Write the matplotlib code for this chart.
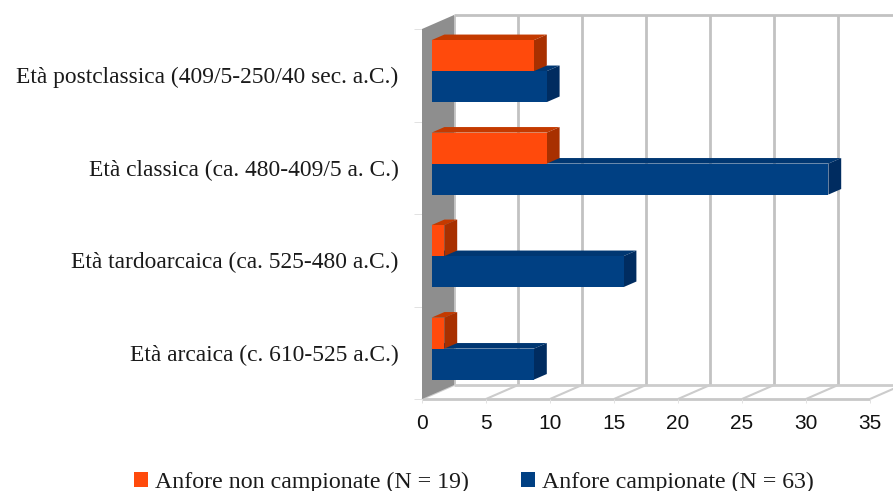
import matplotlib
matplotlib.use("Agg")
import matplotlib.pyplot as plt
from matplotlib.patches import Polygon

categories = ["Età arcaica (c. 610-525 a.C.)",
              "Età tardoarcaica (ca. 525-480 a.C.)",
              "Età classica (ca. 480-409/5 a. C.)",
              "Età postclassica (409/5-250/40 sec. a.C.)"]
sampled = [8, 15, 31, 9]
unsampled = [1, 1, 9, 8]
xticks = [0, 5, 10, 15, 20, 25, 30, 35]
label_unsampled = "Anfore non campionate (N = 19)"
label_sampled = "Anfore campionate (N = 63)"

W, H = 893, 491
fig = plt.figure(figsize=(W / 100, H / 100), dpi=100, facecolor="white")
ax = fig.add_axes([422 / W, 1 - 399 / H, 448 / W, 370 / H])
ax.set_xlim(0, 35)
ax.set_ylim(0, 4)
ax.patch.set_visible(False)
for s in ax.spines.values():
    s.set_visible(False)

# 3D depth, in data units
WALL_DX, WALL_DY = 2.5, 0.151
BAR_DX, BAR_DY = 1.0, 0.06
BAR_X0 = 0.75
BAR_H = 0.335
GRID = "#c2c2c2"
GRID_LW = 2.0

def line(xs, ys, z=1, lw=GRID_LW, c=GRID):
    ax.plot(xs, ys, color=c, lw=lw, zorder=z, clip_on=False, solid_capstyle="butt")

# back wall grid, floor, top
for v in xticks:
    line([v + WALL_DX] * 2, [WALL_DY, 4 + WALL_DY], z=1)
    line([v, v + WALL_DX], [0, WALL_DY], z=1, lw=1.5, c="#cccccc")
line([WALL_DX, 37.5], [WALL_DY, WALL_DY], z=1, c="#cccccc")
line([WALL_DX, 37.5], [4 + WALL_DY, 4 + WALL_DY], z=1)
line([0, 35], [0, 0], z=1, c="#c8c8c8")

# left wall
ax.add_patch(Polygon([(0, 0), (WALL_DX, WALL_DY), (WALL_DX, 4 + WALL_DY), (0, 4)],
                     closed=True, fc="#8e8e8e", ec="none", zorder=2, clip_on=False))

def bar3d(y, value, front, side, top, z, label=None):
    left = BAR_X0
    right = BAR_X0 + value
    b = ax.barh(y, value, height=BAR_H, left=left, align="edge", color=front,
                zorder=z + 0.2, clip_on=False, label=label, linewidth=0)
    ax.add_patch(Polygon([(left, y + BAR_H), (right, y + BAR_H),
                          (right + BAR_DX, y + BAR_H + BAR_DY),
                          (left + BAR_DX, y + BAR_H + BAR_DY)],
                         closed=True, fc=top, ec="none", zorder=z, clip_on=False))
    ax.add_patch(Polygon([(right, y), (right + BAR_DX, y + BAR_DY),
                          (right + BAR_DX, y + BAR_H + BAR_DY), (right, y + BAR_H)],
                         closed=True, fc=side, ec="none", zorder=z + 0.1, clip_on=False))
    return b

h_s = h_u = None
for i in range(len(categories)):
    h_s = bar3d(i + 0.21, sampled[i], "#004083", "#002c60", "#003772", 3)
    h_u = bar3d(i + 0.545, unsampled[i], "#ff4a0c", "#a83000", "#c43a00", 4)

# ticks
ax.set_xticks(xticks)
ax.set_yticks(range(5))
ax.set_yticklabels([])
ax.set_yticks([i + 0.5 for i in range(4)], minor=True)
ax.set_yticklabels(categories, minor=True, fontfamily="Liberation Serif", fontsize=16.95, color="#1a1a1a")
ax.tick_params(axis="y", which="minor", length=0, pad=17)
ax.tick_params(axis="y", which="major", length=6, width=0.7, color="#e2e2e2")
ax.tick_params(axis="x", which="major", length=3, width=0.7, color="#e2e2e2", pad=8)
for t in ax.get_xticklabels():
    t.set_fontfamily("Liberation Sans")
    t.set_fontsize(15)
    t.set_color("#111111")

fig.legend([h_u, h_s], [label_unsampled, label_sampled], loc="center left",
           bbox_to_anchor=(134 / W, 1 - 482 / H), ncol=2, frameon=False,
           prop={"family": "Liberation Serif", "size": 17.2}, labelcolor="#1a1a1a",
           handlelength=0.59, handleheight=0.59, handletextpad=0.3, columnspacing=2.18,
           borderpad=0, borderaxespad=0)

fig.savefig("out.png", dpi=100)
